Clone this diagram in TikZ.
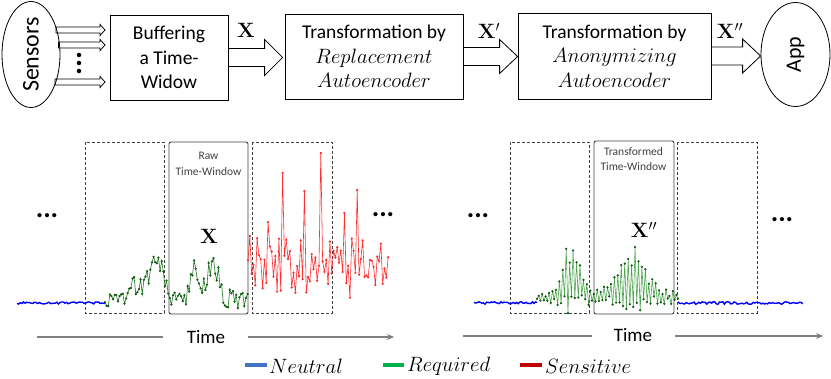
\documentclass[tikz,border=0pt]{standalone}
\usepackage[no-math]{fontspec}
\setmainfont{Carlito}
\usetikzlibrary{shapes.geometric,calc,arrows.meta}
\definecolor{legblue}{HTML}{4472C4}
\definecolor{leggreen}{HTML}{00B050}
\definecolor{legred}{HTML}{C00000}
\definecolor{sigblue}{RGB}{0,0,255}
\definecolor{rawgreen}{RGB}{30,120,30}
\definecolor{dotgreen}{RGB}{20,90,20}
\definecolor{tgreen}{RGB}{80,165,80}
\definecolor{sigred}{RGB}{255,45,45}
\definecolor{boxgray}{RGB}{64,64,64}
\definecolor{timegray}{RGB}{128,128,128}
\begin{document}
\begin{tikzpicture}[x=1pt,y=-1pt,
  declare function={
    rawg(\t)=300-16*exp(-(((\t-133)/6)^2))-12*exp(-(((\t-145)/6)^2))-42*exp(-(((\t-157)/8)^2))-30*exp(-(((\t-194)/6)^2))-36*exp(-(((\t-213)/8)^2));
    envA(\t)=4+34*exp(-(((\t-572)/13)^2))+30*exp(-(((\t-632)/19)^2));
  },
  procbox/.style={draw, line width=0.8pt, align=center, inner sep=0pt,
    font=\fontsize{19.5}{24.5}\selectfont},
  ovalnode/.style={draw, ellipse, line width=0.8pt, inner sep=0pt},
  blockarrow/.style n args={3}{draw, line width=0.8pt, fill=white,
    to path={let \p1=(\tikztostart), \p2=(\tikztotarget) in
      (\x1,\y1+#1) -- (\x2-#3,\y1+#1) -- (\x2-#3,\y1+#2) -- (\x2,\y1)
      -- (\x2-#3,\y1-#2) -- (\x2-#3,\y1-#1) -- (\x1,\y1-#1) -- cycle}},
  xlabel/.style={font=\fontsize{20}{22}\selectfont},
  dotsnode/.style={font=\fontsize{28}{30}\bfseries},
  dashbox/.style={draw=boxgray, dash pattern=on 3pt off 2pt, line width=0.7pt},
  winbox/.style={draw=boxgray, line width=0.9pt, rounded corners=2pt},
  wintext/.style={align=center, text=boxgray, inner sep=0pt},
  timeline/.style={draw=timegray, line width=1.1pt},
  timetext/.style={font=\fontsize{19}{22}\selectfont, inner sep=0pt},
  sigmarks/.style={mark=*, mark size=0.8pt},
  legbar/.style={line width=3.5pt},
  legtext/.style={anchor=west, inner sep=0pt, font=\fontsize{20}{24}\selectfont}
]
\useasboundingbox (0,0) rectangle (831,379);

% ---------------- top pipeline ----------------
\node[ovalnode, minimum width=58pt, minimum height=104pt] (sens) at (31,54.5)
  {\fontsize{24}{26}\selectfont\rotatebox{90}{Sensors}};
\node[procbox, minimum width=118pt, minimum height=85pt] (b1) at (169,57.5)
  {Buffering\\a Time-\\Widow};
\node[procbox, minimum width=178pt, minimum height=85pt] (b2) at (374,56.5)
  {Transformation by\\$Replacement$\\$Autoencoder$};
\node[procbox, minimum width=193pt, minimum height=86pt] (b3) at (614.5,56)
  {Transformation by\\$Anonymizing$\\$Autoencoder$};
\node[ovalnode, minimum width=69pt, minimum height=104pt] (app) at (795.5,54.5)
  {\fontsize{22}{24}\selectfont\rotatebox{90}{App}};

% sensor arrows
\coordinate (s1a) at (56,30);   \coordinate (s1b) at (105,30);
\coordinate (s2a) at (58.5,45); \coordinate (s2b) at (105,45);
\coordinate (s3a) at (55,82);   \coordinate (s3b) at (105,82);
\draw[blockarrow={3pt}{5.5pt}{5pt}, fill=none] (s1a) to (s1b);
\draw[blockarrow={3pt}{5.5pt}{5pt}, fill=none] (s2a) to (s2b);
\draw[blockarrow={3pt}{5.5pt}{5pt}, fill=none] (s3a) to (s3b);
\node[font=\fontsize{30}{32}\bfseries, inner sep=0pt] (vd) at (79,63.5) {\rotatebox{90}{...}};

% block arrows
\draw[blockarrow={9pt}{18pt}{18pt}] (b1.east) to ([xshift=-2pt]b2.west);
\draw[blockarrow={9pt}{17pt}{18pt}] (b2.east) to (b3.west);
\draw[blockarrow={9pt}{17pt}{18pt}] (b3.east) to (app.west);

\node[xlabel] (lx1) at (246,30) {$\mathbf{X}$};
\node[xlabel] (lx2) at (489,31) {$\mathbf{X}'$};
\node[xlabel] (lx3) at (730,31) {$\mathbf{X}''$};

% ---------------- data points ----------------
\pgfmathsetseed{11}
\gdef\bluea{}\gdef\rawpts{}\gdef\redpts{}\gdef\blueb{}\gdef\bluec{}\gdef\trpts{}
\foreach \i in {0,...,55}{
  \pgfmathsetmacro\px{17+\i*1.6}\pgfmathsetmacro\py{303+(rnd-0.5)*2.4}
  \xdef\bluea{\bluea (\px,\py)}}
\foreach \i in {0,...,88}{
  \pgfmathsetmacro\px{105+\i*1.62}\pgfmathsetmacro\py{rawg(\px)+(rnd-0.5)*20}
  \xdef\rawpts{\rawpts (\px,\py)}}
\foreach \i in {0,...,77}{
  \pgfmathsetmacro\px{248+\i*1.82}
  \pgfmathsetmacro\pb{264+cos(\i*180)*18*rnd+(rnd-0.5)*44}
  \pgfmathsetmacro\py{\pb-(\i==19)*(\pb-173)-(\i==31)*(\pb-191)-(\i==40)*(\pb-153)-(\i==60)*(\pb-190)-(\i==11)*(\pb-222)-(\i==53)*(\pb-213)}
  \xdef\redpts{\redpts (\px,\py)}}
\foreach \i in {0,...,40}{
  \pgfmathsetmacro\px{474+\i*1.58}\pgfmathsetmacro\py{303+(rnd-0.5)*2.4}
  \xdef\blueb{\blueb (\px,\py)}}
\foreach \i in {0,...,78}{
  \pgfmathsetmacro\px{678+\i*1.6}\pgfmathsetmacro\py{303+(rnd-0.5)*2.4}
  \xdef\bluec{\bluec (\px,\py)}}
\foreach \i in {0,...,82}{
  \pgfmathsetmacro\px{537+\i*1.72}
  \pgfmathsetmacro\pa{envA(\px)}
  \pgfmathsetmacro\py{300-0.6*\pa+cos(\i*180)*\pa*(0.45+0.55*rnd)+(rnd-0.5)*6}
  \xdef\trpts{\trpts (\px,\py)}}

% ---------------- left panel ----------------
\draw[dashbox] (85,142) rectangle (164,313);
\draw[winbox] (169,142) rectangle (248,314);
\draw[dashbox] (252,142) rectangle (332,313);
\node[wintext, font=\fontsize{11.5}{16}\selectfont] (rawt) at (208.5,164) {Raw\\Time-Window};

\edef\tmp{\noexpand\draw[sigblue, line width=1.4pt] plot coordinates {\bluea};}\tmp
\edef\tmp{\noexpand\draw[rawgreen, line width=0.6pt] plot[sigmarks, mark options={dotgreen}] coordinates {\rawpts};}\tmp
\edef\tmp{\noexpand\draw[sigred, line width=0.6pt] plot[sigmarks] coordinates {\redpts};}\tmp

\node[dotsnode] (ld1) at (47,216) {...};
\node[dotsnode] (ld2) at (383,215) {...};
\node[font=\fontsize{22}{24}\selectfont] (xl) at (209,236) {$\mathbf{X}$};

\node[timetext] (time1) at (206,337) {Time};
\coordinate (t1a) at (37,337);  \coordinate (t1b) at (163,337);
\coordinate (t1c) at (248,337); \coordinate (t1d) at (394,337);
\draw[timeline] (t1a) -- (t1b);
\draw[timeline, -{Stealth[length=7pt,width=6pt]}] (t1c) -- (t1d);

% ---------------- right panel ----------------
\draw[dashbox] (510,142) rectangle (589,313);
\draw[winbox] (594,141) rectangle (674,314);
\draw[dashbox] (677,142) rectangle (757,313);
\node[wintext, font=\fontsize{11.5}{14.5}\selectfont] (trt) at (633.5,159) {Transformed\\Time-Window};

\edef\tmp{\noexpand\draw[sigblue, line width=1.4pt] plot coordinates {\blueb};}\tmp
\edef\tmp{\noexpand\draw[sigblue, line width=1.4pt] plot coordinates {\bluec};}\tmp
\edef\tmp{\noexpand\draw[tgreen, line width=0.6pt] plot[sigmarks, mark options={dotgreen}] coordinates {\trpts};}\tmp

\node[dotsnode] (rd1) at (478,216) {...};
\node[dotsnode] (rd2) at (782,220) {...};
\node[font=\fontsize{22}{24}\selectfont] (xr) at (644,230) {$\mathbf{X}''$};

\node[timetext] (time2) at (633,335) {Time};
\coordinate (t2a) at (463,336); \coordinate (t2b) at (592,336);
\coordinate (t2c) at (675,336); \coordinate (t2d) at (823,336);
\draw[timeline] (t2a) -- (t2b);
\draw[timeline, -{Stealth[length=7pt,width=6pt]}] (t2c) -- (t2d);

% ---------------- legend ----------------
\coordinate (lb1) at (245,365); \coordinate (lb2) at (267,365);
\coordinate (lg1) at (383,365); \coordinate (lg2) at (404,365);
\coordinate (lr1) at (520,365); \coordinate (lr2) at (542,365);
\draw[legblue, legbar] (lb1) -- (lb2);
\draw[leggreen, legbar] (lg1) -- (lg2);
\draw[legred, legbar] (lr1) -- (lr2);
\node[legtext] (ln) at (269,366) {$Neutral$};
\node[legtext] (lq) at (407,366) {$Required$};
\node[legtext] (ls) at (545,366) {$Sensitive$};
\end{tikzpicture}
\end{document}
